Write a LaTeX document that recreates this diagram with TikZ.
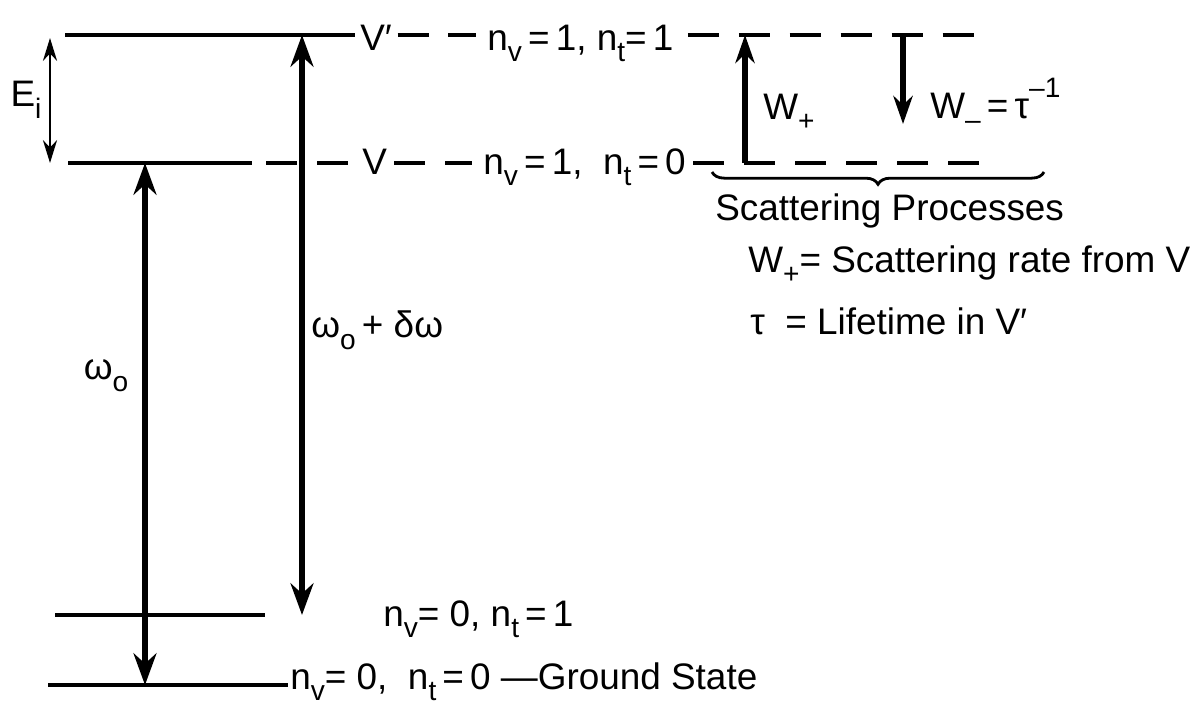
\documentclass[tikz,border=0pt]{standalone}
\usepackage{fontspec}
\setmainfont{Liberation Sans}
\usetikzlibrary{arrows.meta, decorations.pathreplacing, positioning}
\newcommand{\lo}[1]{\raisebox{-0.32em}{\fontsize{16}{16}\selectfont #1}}
\newcommand{\hi}[1]{\raisebox{0.55em}{\fontsize{16}{16}\selectfont #1}}

\tikzset{
  lvl/.style={line width=2.8pt},
  gap/.style={line width=2.2pt, dash pattern=on 0.62cm off 0.4cm},
  lbl/.style={font=\fontsize{21}{24}\selectfont, inner sep=0pt},
  trans/.style={line width=3.2pt, {Stealth[length=18pt, width=13pt]}-{Stealth[length=18pt, width=13pt]}},
  rate/.style={line width=3pt, -{Stealth[length=16pt, width=11pt]}},
}

\begin{document}
\begin{tikzpicture}[x=0.02cm, y=-0.02cm]
  \useasboundingbox (0,0) rectangle (1202,704);

  % level ends
  \coordinate (vpL) at (65,35);   \coordinate (vpR) at (355,35);
  \coordinate (vL)  at (68,163);  \coordinate (vR)  at (252,163);
  \coordinate (t1L) at (55,615);  \coordinate (t1R) at (265,615);
  \coordinate (gL)  at (48,685);  \coordinate (gR)  at (288,685);

  \draw[lvl] (vpL) -- (vpR);
  \draw[lvl] (vL) -- (vR);
  \draw[lvl] (t1L) -- (t1R);
  \draw[lvl] (gL) -- (gR);

  % level labels
  \node[lbl, anchor=base west] (Vp) at (360,50) {V′};
  \node[lbl, anchor=base west] (nTop) at (487,50) {n\lo{v}\,=\,1, n\lo{t}=\,1};
  \node[lbl, anchor=base west] (V) at (362,174) {V};
  \node[lbl, anchor=base west] (nMid) at (483,174) {n\lo{v}\,=\,1,\ \ n\lo{t}\,=\,0};
  \node[lbl, anchor=base west] (nT1) at (383,626) {n\lo{v}= 0, n\lo{t}\,=\,1};
  \node[lbl, anchor=base west] (nG) at (290,689) {n\lo{v}= 0,\ \ n\lo{t}\,=\,0 —Ground State};

  \coordinate (topEnd) at (975,35);
  \coordinate (midEnd) at (982,163);
  \draw[gap] ([xshift=3pt]Vp.east |- vpR) -- ([xshift=-6pt]nTop.west |- vpR);
  \draw[gap] ([xshift=8pt]nTop.east |- vpR) -- (topEnd);
  \draw[gap] ([xshift=8pt]vR) -- ([xshift=-4pt]V.west |- vR);
  \draw[gap] ([xshift=4pt]V.east |- vR) -- ([xshift=-6pt]nMid.west |- vR);
  \draw[gap] ([xshift=4pt]nMid.east |- vR) -- (midEnd);

  % transitions
  \coordinate (eiT) at (50,38);   \coordinate (eiB) at (50,163);
  \coordinate (woT) at (145,163); \coordinate (woB) at (145,685);
  \coordinate (wdT) at (302,35);  \coordinate (wdB) at (302,615);
  \draw[line width=1.6pt, {Stealth[length=13pt, width=8pt]}-{Stealth[length=13pt, width=8pt]}] (eiT) -- (eiB);
  \draw[trans] (woT) -- (woB);
  \draw[trans] (wdT) -- (wdB);
  \node[lbl] (Ei) at (26,100) {E\lo{i}};
  \node[lbl] (wo) at (106,376) {ω\lo{o}};
  \node[lbl, anchor=west] (wd) at (311,330) {ω\lo{o}\,+ δω};

  % scattering
  \coordinate (wpB) at (745,163); \coordinate (wpT) at (745,35);
  \coordinate (wmT) at (903,35);  \coordinate (wmB) at (903,124);
  \draw[rate] (wpB) -- (wpT);
  \draw[rate] (wmT) -- (wmB);
  \node[lbl, anchor=base west] (Wp) at (763,119) {W\lo{+}};
  \node[lbl, anchor=base west] (Wm) at (930,118) {W\lo{–}\,=\,τ\hi{–1}};

  \coordinate (brL) at (712,172); \coordinate (brR) at (1044,172);
  \draw[line width=1.6pt, decorate, decoration={brace, mirror, amplitude=7pt}] (brL) -- (brR);
  \node[lbl, anchor=base west] (sp) at (715,220) {Scattering Processes};
  \node[lbl, anchor=base west] (rate) at (748,272) {W\lo{+}= Scattering rate from V};
  \node[lbl, anchor=base west] (life) at (750,334) {τ\ \ = Lifetime in V′};
\end{tikzpicture}
\end{document}
